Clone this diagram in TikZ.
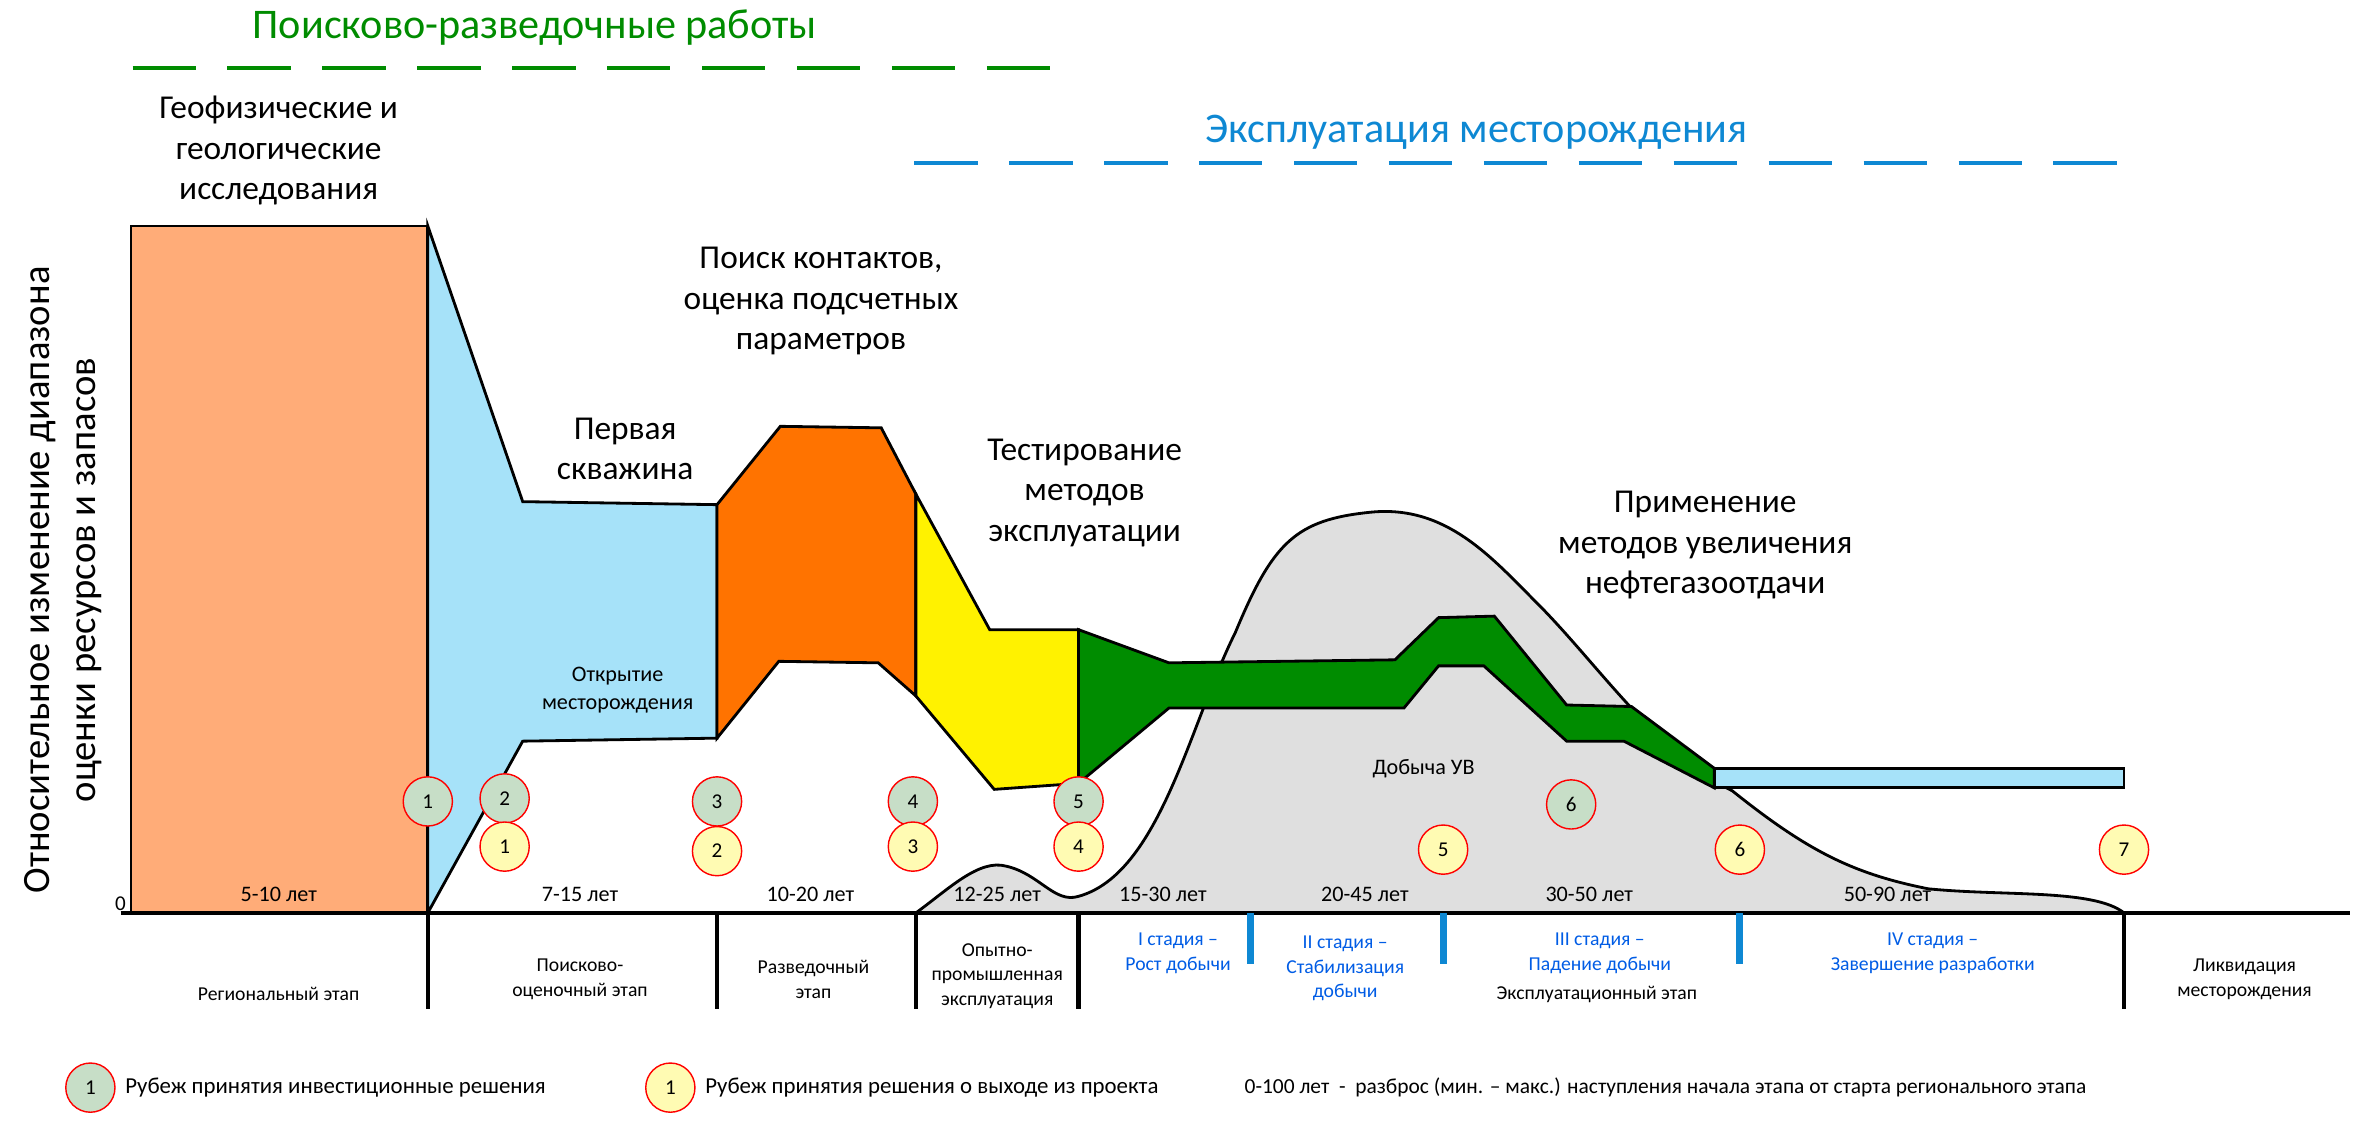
\documentclass[tikz,border=0pt]{standalone}
\usepackage{fontspec}
\setmainfont{Carlito}
\begin{document}
\begin{tikzpicture}[x=0.01506cm,y=-0.01506cm,
  hd/.style={align=center,font=\fontsize{9.5}{11.5}\selectfont},
  sm/.style={align=center,font=\fontsize{5.6}{7}\selectfont},
  bsm/.style={sm,text=blue!60!cyan!90!black},
  gc/.style={circle,draw=red,fill=green!25!gray!35,inner sep=0pt,minimum size=14pt,font=\fontsize{6}{7}\selectfont},
  yc/.style={circle,draw=red,fill=yellow!30,inner sep=0pt,minimum size=14pt,font=\fontsize{6}{7}\selectfont},
  sh/.style={draw=black,line width=0.8pt}]
\useasboundingbox (0,0) rectangle (1568,752);
% titles
\node[text=green!55!black,font=\fontsize{12}{14}\selectfont] (t1) at (355,18) {Поисково-разведочные работы};
\draw[green!55!black,line width=1.2pt,dash pattern=on 18pt off 9pt] (88,45) coordinate (g1) -- (715,45) coordinate (g2);
\node[text=cyan!70!blue,font=\fontsize{12}{14}\selectfont] (t2) at (980,88) {Эксплуатация месторождения};
\draw[cyan!70!blue,line width=1.2pt,dash pattern=on 18pt off 9pt] (607,108) coordinate (b1) -- (1410,108) coordinate (b2);
\node[rotate=90,align=center,font=\fontsize{11}{13}\selectfont] (yl) at (42,385) {Относительное изменение диапазона\\оценки ресурсов и запасов};
\node[font=\fontsize{6}{7}\selectfont] (z) at (80,600) {0};
% gray production
\draw[sh,fill=gray!25] (608,606) .. controls (630,590) and (650,570) .. (668,575) .. controls (690,580) and (700,600) .. (716,595)
 .. controls (770,580) and (790,480) .. (820,420) .. controls (845,360) and (860,345) .. (910,340)
 .. controls (960,335) and (990,370) .. (1020,400) .. controls (1060,440) and (1100,500) .. (1150,525)
 .. controls (1200,565) and (1230,580) .. (1280,590) .. controls (1330,595) and (1390,590) .. (1410,606) -- cycle;
% stages
\draw[sh,fill=orange!45!pink!90!white] (87,150) rectangle (284,606);
\draw[sh,fill=cyan!35] (284,150) -- (347,333) -- (476,335) -- (476,490) -- (347,492) -- (284,606) -- cycle;
\draw[sh,fill=orange!90!red] (476,335) -- (518,283) -- (585,284) -- (608,328) -- (608,462) -- (583,440) -- (517,439) -- (476,490) -- cycle;
\draw[sh,fill=yellow] (608,328) -- (657,418) -- (716,418) -- (716,520) -- (660,524) -- (608,462) -- cycle;
\draw[sh,fill=green!55!black] (716,418) -- (776,440) -- (926,438) -- (955,410) -- (992,409) -- (1040,468) -- (1083,469) -- (1138,510) -- (1138,523) -- (1078,492) -- (1040,492) -- (985,442) -- (955,442) -- (932,470) -- (776,470) -- (716,520) -- cycle;
\draw[sh,fill=cyan!35] (1138,510) rectangle (1410,523);
% axis
\draw[line width=1pt] (80,606) coordinate (a0) -- (1560,606) coordinate (a1);
\foreach \x in {284,476,608,716,1410} \draw[line width=1.2pt] (\x,606) -- (\x,670);
\foreach \x in {830,958,1155} \draw[line width=2pt,cyan!70!blue] (\x,606) -- (\x,640);
% headings
\node[hd] (h1) at (185,100) {Геофизические и\\геологические\\исследования};
\node[hd] (h2) at (415,298) {Первая\\скважина};
\node[hd] (h3) at (545,200) {Поиск контактов,\\оценка подсчетных\\параметров};
\node[hd] (h4) at (720,327) {Тестирование\\методов\\эксплуатации};
\node[hd] (h5) at (1132,362) {Применение\\методов увеличения\\нефтегазоотдачи};
\node[sm,font=\fontsize{6.3}{8}\selectfont] (o1) at (410,458) {Открытие\\месторождения};
\node[sm,font=\fontsize{6.3}{8}\selectfont] (o2) at (945,510) {Добыча УВ};
% durations
\foreach \x/\t in {185/5-10 лет,385/7-15 лет,538/10-20 лет,662/12-25 лет,772/15-30 лет,906/20-45 лет,1055/30-50 лет,1253/50-90 лет}
  \node[sm,font=\fontsize{6.3}{8}\selectfont] at (\x,594) {\t};
% stage names
\node[sm] (s1) at (185,660) {Региональный этап};
\node[sm] (s2) at (385,650) {Поисково-\\оценочный этап};
\node[sm] (s3) at (540,650) {Разведочный\\этап};
\node[sm] (s4) at (662,648) {Опытно-\\промышленная\\эксплуатация};
\node[bsm] (s5) at (782,633) {I стадия –\\Рост добычи};
\node[bsm] (s6) at (893,643) {II стадия –\\Стабилизация\\добычи};
\node[bsm] (s7) at (1062,633) {III стадия –\\Падение добычи};
\node[sm] (s8) at (1060,660) {Эксплуатационный этап};
\node[bsm] (s9) at (1283,633) {IV стадия –\\Завершение разработки};
\node[sm] (s10) at (1490,650) {Ликвидация\\месторождения};
% circles
\foreach \x/\y/\n in {284/532/1,335/530/2,476/532/3,606/532/4,716/532/5,1043/534/6}
  \node[gc] at (\x,\y) {\n};
\foreach \x/\y/\n in {335/562/1,476/565/2,606/562/3,716/562/4,958/564/5,1155/564/6,1410/564/7}
  \node[yc] at (\x,\y) {\n};
% legend
\node[gc] (l1) at (60,722) {1};
\node[sm,anchor=west,font=\fontsize{6.5}{8}\selectfont] (l1t) at (75,722) {Рубеж принятия инвестиционные решения};
\node[yc] (l2) at (445,722) {1};
\node[sm,anchor=west,font=\fontsize{6.5}{8}\selectfont] (l2t) at (460,722) {Рубеж принятия решения о выходе из проекта};
\node[sm,anchor=west,font=\fontsize{6.1}{8}\selectfont] (l3t) at (818,722) {0-100 лет\ \ -\ \ разброс (мин. – макс.) наступления начала этапа от старта регионального этапа};
\end{tikzpicture}
\end{document}
